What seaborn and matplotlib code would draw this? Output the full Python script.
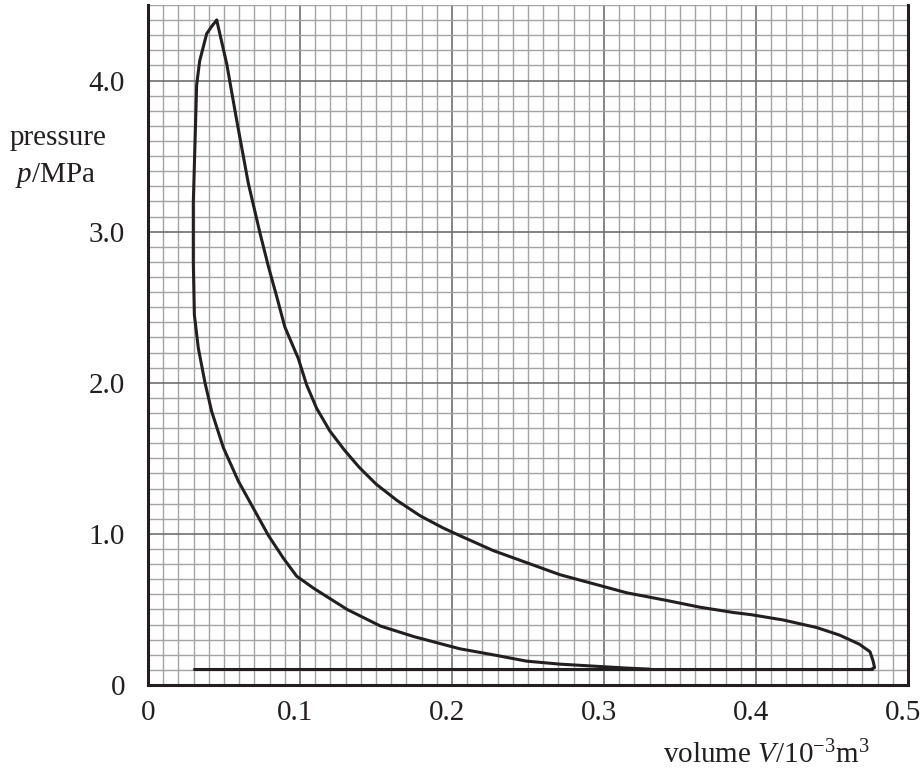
import matplotlib
matplotlib.use('Agg')
import matplotlib.pyplot as plt
from matplotlib.ticker import MultipleLocator
from matplotlib.transforms import ScaledTranslation
import seaborn as sns

# expansion stroke (upper branch)
expansion_v = [0.0452, 0.0518, 0.0583, 0.0660, 0.0737, 0.0792, 0.0847, 0.0900,
               0.0989, 0.1044, 0.1110, 0.1197, 0.1296, 0.1390, 0.1500, 0.1640,
               0.1790, 0.1940, 0.2070, 0.2270, 0.2490, 0.2710, 0.2930, 0.3150,
               0.3410, 0.3630, 0.3850, 0.3970, 0.4180, 0.4400, 0.4550, 0.4680,
               0.4750, 0.4770, 0.4780, 0.4760]
expansion_p = [4.40, 4.11, 3.74, 3.32, 2.99, 2.77, 2.57, 2.37,
               2.16, 1.985, 1.83, 1.68, 1.55, 1.44, 1.33, 1.22,
               1.12, 1.04, 0.98, 0.89, 0.81, 0.73, 0.67, 0.61,
               0.56, 0.515, 0.48, 0.465, 0.43, 0.38, 0.33, 0.27,
               0.22, 0.16, 0.115, 0.105]

# compression stroke (lower branch), right to left then up to the peak
compression_v = [0.330, 0.315, 0.293, 0.271, 0.249, 0.227, 0.205, 0.175,
                 0.153, 0.131, 0.109, 0.0978, 0.089, 0.0792, 0.0693, 0.0594,
                 0.0496, 0.0419, 0.0375, 0.0331, 0.0305, 0.0298, 0.0298,
                 0.0320, 0.0340, 0.0386, 0.0420, 0.0452]
compression_p = [0.105, 0.112, 0.125, 0.138, 0.158, 0.20, 0.24, 0.32,
                 0.39, 0.50, 0.64, 0.72, 0.84, 0.99, 1.17, 1.35,
                 1.57, 1.81, 2.00, 2.23, 2.45, 2.80, 3.19,
                 3.97, 4.13, 4.31, 4.36, 4.40]

# exhaust / intake line
exhaust_v = [0.476, 0.030]
exhaust_p = [0.105, 0.105]

x_ticks = [0, 0.1, 0.2, 0.3, 0.4, 0.5]
x_labels = ['0', '0.1', '0.2', '0.3', '0.4', '0.5']
y_ticks = [0, 1, 2, 3, 4]
y_labels = ['0', '1.0', '2.0', '3.0', '4.0']

sns.set_style('white')
plt.rcParams['font.family'] = ['Liberation Serif', 'DejaVu Serif']
plt.rcParams['mathtext.fontset'] = 'custom'
plt.rcParams['mathtext.rm'] = 'Liberation Serif'
plt.rcParams['mathtext.it'] = 'Liberation Serif:italic'

ink = '#231f20'
fig = plt.figure(figsize=(9.21, 7.73), dpi=100)
ax = fig.add_axes([148 / 921, 88 / 773, 760 / 921, 680 / 773])

line_kw = dict(color=ink, linewidth=2.2, sort=False, estimator=None, ax=ax)
sns.lineplot(x=expansion_v, y=expansion_p, **line_kw)
sns.lineplot(x=compression_v, y=compression_p, **line_kw)
sns.lineplot(x=exhaust_v, y=exhaust_p, **line_kw)

ax.set_xlim(0, 0.5)
ax.set_ylim(0, 4.5)
ax.set_xticks(x_ticks)
ax.set_xticklabels(x_labels)
ax.set_yticks(y_ticks)
ax.set_yticklabels(y_labels)
ax.xaxis.set_minor_locator(MultipleLocator(0.01))
ax.yaxis.set_minor_locator(MultipleLocator(0.1))
ax.tick_params(which='both', length=0, labelsize=21, colors=ink)
ax.tick_params(axis='x', pad=10.5)
ax.tick_params(axis='y', pad=16.5)

# the printed labels sit a little left of their ticks
shift = ScaledTranslation(-5 / 100, 0, fig.dpi_scale_trans)
for lab in ax.get_xticklabels()[1:]:
    lab.set_transform(lab.get_transform() + shift)

ax.set_axisbelow(True)
ax.grid(which='minor', color='#a3a3a3', linewidth=1.0)
ax.grid(which='major', color='#6f6f6f', linewidth=1.2)

ax.spines['top'].set_visible(False)
for side in ['left', 'bottom', 'right']:
    ax.spines[side].set_color(ink)
    ax.spines[side].set_linewidth(2.2)

ax.set_xlabel('')
ax.set_ylabel('')
fig.text(58 / 921, 1 - 145 / 773, 'pressure', ha='center', va='baseline',
         fontsize=21, color=ink)
fig.text(55 / 921, 1 - 182 / 773, r'$\it{p}$/MPa', ha='center', va='baseline',
         fontsize=21, color=ink)
fig.text(870 / 921, 1 - 763 / 773, r'volume $\it{V}$/10$^{-3}$m$^{3}$',
         ha='right', va='baseline', fontsize=21, color=ink)

fig.savefig('out.png', dpi=100)
